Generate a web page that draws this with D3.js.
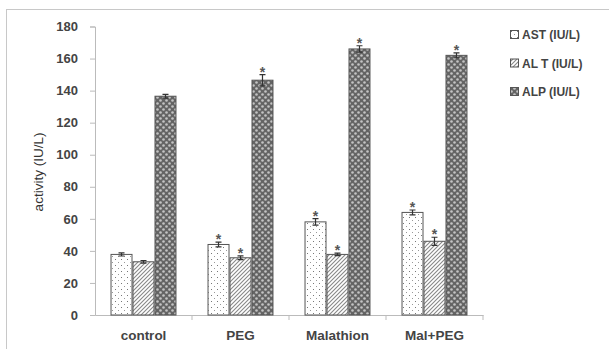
<!DOCTYPE html>
<html><head><meta charset="utf-8">
<script src="https://cdn.jsdelivr.net/npm/d3@7"></script>
<style>body{margin:0;background:#fff}svg{display:block}</style>
</head><body><svg id="c" width="609" height="349"></svg>
<script>
const categories = ["control","PEG","Malathion","Mal+PEG"];
const seriesNames = ["AST (IU/L)","AL T (IU/L)","ALP (IU/L)"];
const AST = [37.8, 44, 58.1, 64];
const ALT = [33.2, 35.7, 37.8, 46];
const ALP = [136.5, 146.5, 166, 162];
const errAST = [1, 1.5, 2, 1.5];
const errALT = [0.8, 1.2, 0.8, 2.5];
const errALP = [1.2, 3.5, 2, 1.5];
const starAST = [false, true, true, true];
const starALT = [false, true, true, true];
const starALP = [false, true, true, true];
const yTicks = [0,20,40,60,80,100,120,140,160,180];

const values = [AST, ALT, ALP];
const errs = [errAST, errALT, errALP];
const stars = [starAST, starALT, starALP];
const patterns = ["pDots","pHatch","pHex"];
const FONT = "Liberation Sans, Arial, sans-serif";

const svg = d3.select("#c");
const defs = svg.append("defs");
const p1 = defs.append("pattern").attr("id","pDots").attr("patternUnits","userSpaceOnUse").attr("width",6).attr("height",6);
p1.append("rect").attr("width",6).attr("height",6).attr("fill","#fff");
p1.append("rect").attr("x",1).attr("y",1).attr("width",1).attr("height",1).attr("fill","#777");
p1.append("rect").attr("x",4).attr("y",4).attr("width",1).attr("height",1).attr("fill","#999");
const p2 = defs.append("pattern").attr("id","pHatch").attr("patternUnits","userSpaceOnUse").attr("width",4).attr("height",4);
p2.append("rect").attr("width",4).attr("height",4).attr("fill","#fff");
p2.append("path").attr("d","M-1,1 l2,-2 M0,4 l4,-4 M3,5 l2,-2").attr("stroke","#888").attr("stroke-width",1.1);
const p3 = defs.append("pattern").attr("id","pHex").attr("patternUnits","userSpaceOnUse").attr("width",6).attr("height",6);
p3.append("rect").attr("width",6).attr("height",6).attr("fill","#646464");
p3.append("circle").attr("cx",1.5).attr("cy",1.5).attr("r",1.3).attr("fill","#c4c4c4");
p3.append("circle").attr("cx",4.5).attr("cy",4.5).attr("r",1.3).attr("fill","#c4c4c4");

svg.append("rect").attr("x",6.5).attr("y",9.5).attr("width",700).attr("height",400)
  .attr("fill","none").attr("stroke","#c8c8c8");

const y = d3.scaleLinear().domain([0,180]).range([315,26.5]);
const x = d3.scaleBand().domain(categories).range([95,483]).paddingInner(0.32).paddingOuter(0.16);
const xs = d3.scaleBand().domain(d3.range(3)).range([0,x.bandwidth()]);

const ya = svg.append("g").attr("transform","translate(95,0)")
  .call(d3.axisLeft(y).tickValues(yTicks).tickSize(5).tickPadding(12));
ya.select(".domain").attr("stroke","#bbb");
ya.selectAll(".tick line").attr("stroke","#bbb");
ya.selectAll("text").attr("font-family",FONT).attr("font-size",13)
  .attr("font-weight","bold").attr("fill","#444");

const xa = svg.append("g").attr("transform","translate(0,315)")
  .call(d3.axisBottom(x).tickSize(0).tickPadding(15));
xa.select(".domain").attr("stroke","#bbb");
xa.selectAll("text").attr("font-family",FONT).attr("font-size",13.5)
  .attr("font-weight","bold").attr("fill","#444");
const bounds = categories.map((c,i)=> x.range()[0] + x.step()*(i+1));
svg.append("g").selectAll("line").data(bounds).join("line")
  .attr("x1",d=>d).attr("x2",d=>d).attr("y1",315).attr("y2",320).attr("stroke","#bbb");

values.forEach((vals, s) => {
  const g = svg.append("g");
  g.selectAll("rect").data(categories).join("rect")
    .attr("x",(c)=>x(c)+xs(s)+0.5)
    .attr("y",(c,i)=>y(vals[i]))
    .attr("width",xs.bandwidth()-1)
    .attr("height",(c,i)=>y(0)-y(vals[i]))
    .attr("fill",`url(#${patterns[s]})`)
    .attr("stroke","#555").attr("stroke-width",1);
  g.selectAll("path.err").data(categories).join("path").attr("class","err")
    .attr("d",(c,i)=>{
      const cx = x(c)+xs(s)+xs.bandwidth()/2;
      const y1 = y(vals[i]+errs[s][i]), y0 = y(vals[i]-errs[s][i]);
      return `M${cx},${y0}V${y1}M${cx-3},${y1}H${cx+3}M${cx-3},${y0}H${cx+3}`;
    }).attr("stroke","#333").attr("stroke-width",1.2).attr("fill","none");
  g.selectAll("text").data(categories.filter((c,i)=>stars[s][i])).join("text")
    .attr("x",c=>x(c)+xs(s)+xs.bandwidth()/2)
    .attr("y",c=>{const i=categories.indexOf(c); return y(vals[i]+errs[s][i])+2;})
    .attr("text-anchor","middle").attr("font-family",FONT)
    .attr("font-size",14).attr("font-weight","bold").attr("fill","#555").text("*");
});

svg.append("text").attr("transform","translate(43,172) rotate(-90)")
  .attr("text-anchor","middle").attr("font-family",FONT)
  .attr("font-size",13.5).attr("fill","#333").text("activity (IU/L)");

const lg = svg.append("g");
seriesNames.forEach((n,i)=>{
  const yy = 35 + i*28.5;
  lg.append("rect").attr("x",510.5).attr("y",yy-4.5).attr("width",8).attr("height",8)
    .attr("fill",`url(#${patterns[i]})`).attr("stroke","#555");
  lg.append("text").attr("x",522).attr("y",yy).attr("dy","0.35em")
    .attr("font-family",FONT).attr("font-size",12)
    .attr("font-weight","bold").attr("fill","#444").text(n);
});
</script></body></html>
